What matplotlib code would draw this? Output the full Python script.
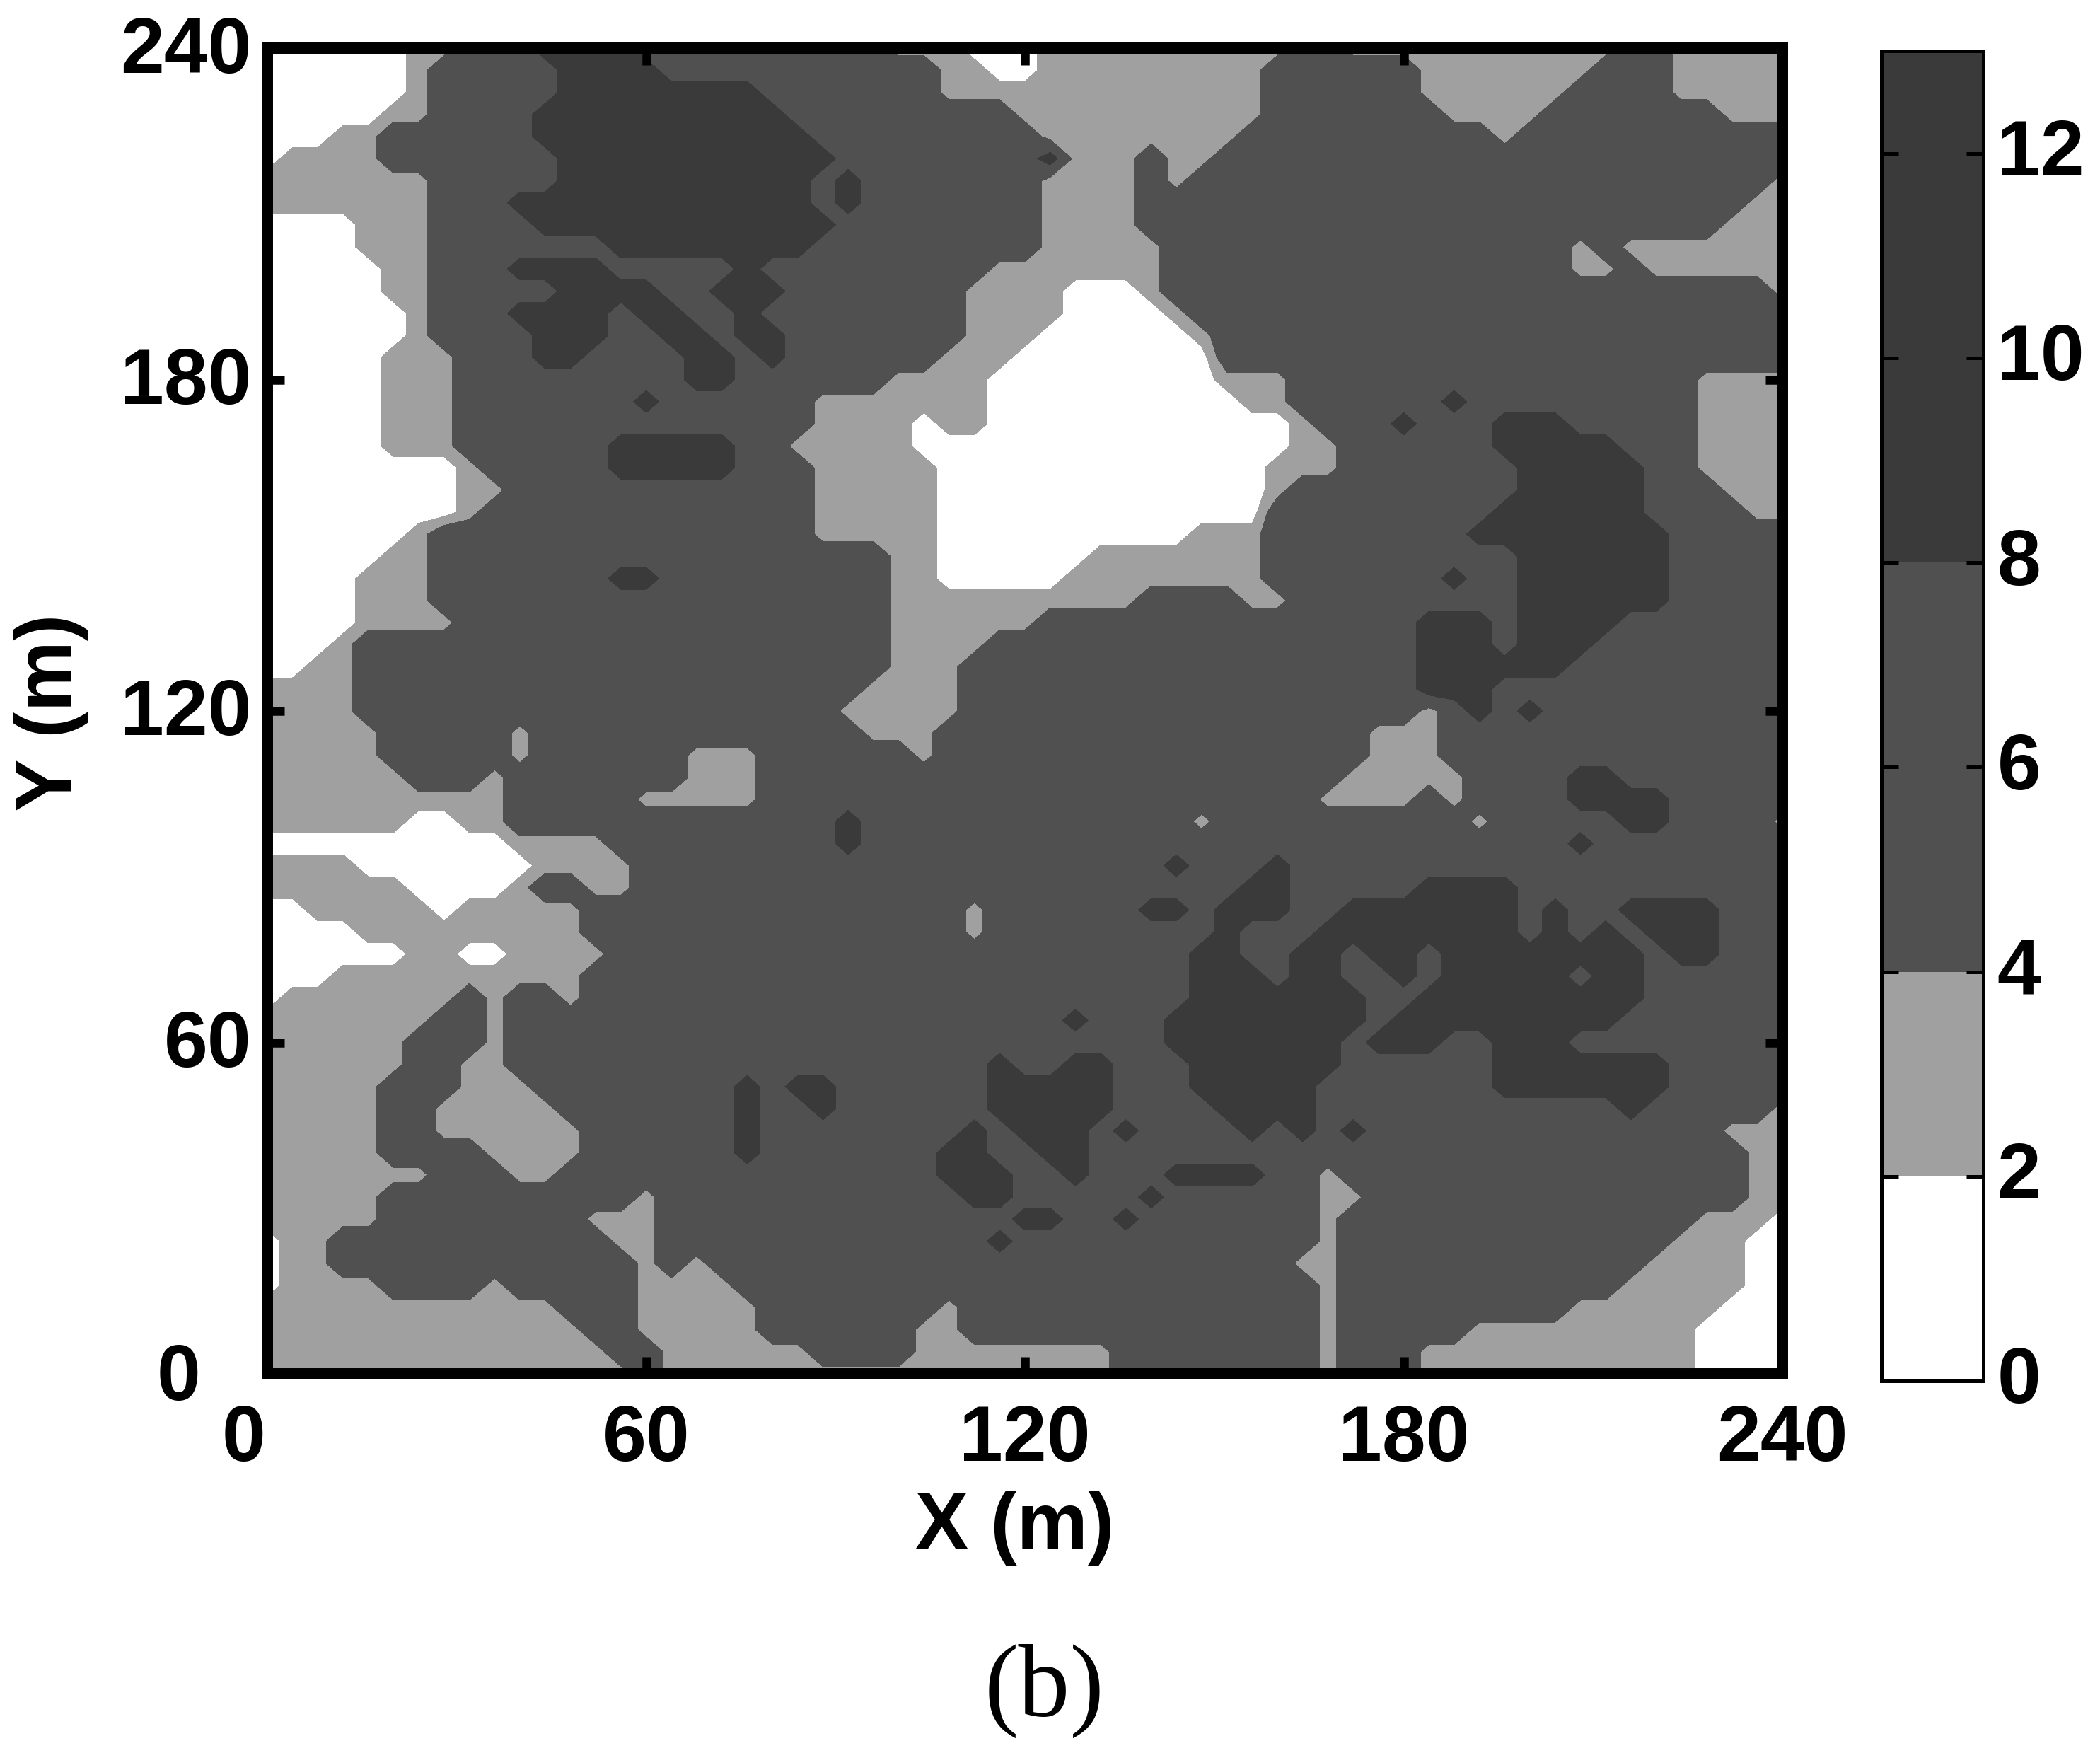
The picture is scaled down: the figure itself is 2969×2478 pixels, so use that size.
import matplotlib
matplotlib.use('Agg')
import matplotlib.pyplot as plt
import matplotlib.transforms as mtrans
from matplotlib.colors import ListedColormap, BoundaryNorm
import numpy as np

# coverage, one row every 4 m from y=240 down to y=0
# run lengths per row, w/l/m/d = white, light, mid, dark band
rows = [
    "6w 2l 3m 4d 10m 3l 3w 10l 2m 11l 2m 5l",
    "6w 1l 5m 4d 11m 2l 2w 9l 6m 7l 3m 5l",
    "6w 1l 5m 8d 7m 4l 9l 6m 6l 4m 5l",
    "5w 2l 4m 10d 9m 1l 9l 7m 4l 7m 3l",
    "3w 2l 6m 11d 9m 8l 10m 1l 11m",
    "1w 4l 7m 11d 8m 1d 3l 1m 2l 23m",
    "7l 5m 10d 1m 1d 7m 4l 1m 1l 23m 1l",
    "7l 3m 12d 1m 1d 7m 4l 24m 2l",
    "4w 3l 4m 12d 8m 4l 23m 3l",
    "4w 3l 7m 8d 9m 5l 16m 1l 1m 7l",
    "5w 2l 3m 4d 5m 1d 9m 2l 5l 16m 2l 1m 6l",
    "5w 2l 5m 4d 2m 3d 7m 3l 1l 3w 1l 24m 1l",
    "6w 1l 3m 4d 1m 2d 2m 1d 8m 3l 1l 4w 1l 24m",
    "6w 1l 4m 3d 2m 2d 1m 2d 7m 3l 6w 1l 23m",
    "5w 3l 3m 2d 4m 2d 1m 1d 6m 3l 1w 7w 23m",
    "5w 3l 9m 2d 6m 4l 2w 7w 3l 16m 4l",
    "5w 3l 7m 1d 6m 7l 2w 8w 2l 6m 1d 9m 4l",
    "5w 3l 14m 4l 1w 2l 2w 10w 1l 3m 1d 3m 3d 5m 4l",
    "5w 3l 6m 5d 2m 5l 5w 10w 2l 6m 5d 3m 4l",
    "8w 1l 5m 5d 3m 5l 4w 9w 3l 7m 5d 2m 4l",
    "8w 2l 12m 5l 4w 9w 1l 9m 5d 3m 3l",
    "8w 1l 13m 5l 4w 9w 9m 6d 4m 2l",
    "6w 1l 15m 5l 4w 6w 3l 8m 8d 5m",
    "5w 2l 18m 2l 4w 2w 7l 10m 6d 5m",
    "4w 3l 7m 2d 9m 2l 4w 1w 8l 7m 1d 2m 6d 5m",
    "4w 3l 18m 6l 4l 4m 2l 9m 6d 5m",
    "4w 4l 17m 6l 15m 3d 1m 4d 7m",
    "3w 1l 21m 4l 2m 15m 3d 1m 3d 8m",
    "2w 2l 21m 3l 3m 15m 6d 9m",
    "4l 20m 4l 3m 15m 3d 12m",
    "4l 19m 5l 3m 15m 1l 1m 1d 1m 1d 10m",
    "5l 5m 1l 13m 3l 4m 13m 3l 14m",
    "5l 5m 1l 6m 3l 6m 1l 4m 13m 3l 14m",
    "6l 3m 1l 7m 3l 11m 12m 5l 4m 2d 7m",
    "10l 5m 5l 11m 11m 4l 1m 1l 4m 4d 5m",
    "6l 2w 2l 13m 1d 7m 6m 1l 10m 1l 5m 2d 4m 1l",
    "10w 4l 9m 1d 7m 21m 1d 8m",
    "4l 7w 4l 16m 5m 1d 3m 1d 20m",
    "6l 4w 1l 2m 2l 16m 8m 2d 5m 4d 11m",
    "2w 5l 1w 5l 15m 1l 2m 4m 2d 1m 3d 2m 7d 1m 1d 2m 4d 3m",
    "4w 9l 15m 1l 2m 7m 1d 3m 8d 1m 1d 1m 1d 1m 3d 3m",
    "6w 2l 2w 4l 17m 6m 2d 2m 2d 1m 2d 1m 8d 1m 2d 3m",
    "3w 10l 18m 6m 3d 1m 2d 2m 1d 1m 5d 1m 2d 6m",
    "1w 7l 1m 1l 2m 1l 18m 6m 7d 2m 9d 6m",
    "7l 2m 1l 21m 1m 1d 3m 8d 1m 9d 7m",
    "6l 3m 1l 21m 5m 7d 1m 3d 2m 3d 9m",
    "6l 2m 2l 19m 1d 1m 1m 2d 3m 6d 6m 7d 5m",
    "5l 3m 3l 8m 1d 1m 2d 6m 2d 3d 3m 5d 7m 7d 5m",
    "5l 2m 5l 7m 1d 2m 1d 6m 2d 3d 4m 4d 12m 1d 5m 1l",
    "5l 2m 6l 6m 1d 8m 1d 1m 1d 2d 1m 1d 4m 1d 1m 1d 1m 1d 14m 3l",
    "5l 4m 4l 6m 1d 7m 2d 2m 2d 26m 2l",
    "7l 3m 2l 15m 3d 1m 1m 1d 3m 4d 2m 1l 16m 2l",
    "5l 10m 1l 12m 2d 1m 4m 1d 6m 2l 15m 2l",
    "5l 8m 3l 14m 1d 1d 2m 1d 7m 1l 14m 3l 1w",
    "1w 2l 11m 2l 13m 1d 1m 11m 1l 13m 3l 2w",
    "1w 2l 12m 1l 1m 1l 13m 10m 2l 12m 4l 2w",
    "1w 4l 4m 1l 5m 4l 12m 11m 1l 11m 5l 2w",
    "12l 3m 5l 7m 1l 3m 11m 1l 9m 6l 3w",
    "13l 2m 5l 6m 2l 3m 11m 1l 5m 9l 4w",
    "14l 2m 6l 4m 5l 3l 8m 1l 3m 11l 4w",
    "15l 1m 15l 3l 8m 1l 3m 11l 4w",
]
band_value = {'w': 1, 'l': 3, 'm': 6, 'd': 10}
levels = [0, 2, 4, 8, 13]
band_colors = ['#ffffff', '#a0a0a0', '#505050', '#3a3a3a']
ticks_xy = [0, 60, 120, 180, 240]
ticks_bar = [0, 2, 4, 6, 8, 10, 12]

grid = []
for row in rows:
    vals = []
    for run in row.split():
        vals += [band_value[run[-1]]] * int(run[:-1])
    assert len(vals) == 61, row
    grid.append(vals)
grid = np.array(grid[::-1], dtype=float)
x = np.linspace(0, 240, 61)
y = np.linspace(0, 240, 61)

plt.rcParams['font.family'] = ['Liberation Sans']
plt.rcParams['font.weight'] = 'bold'
W, H = 2969, 2478
fig = plt.figure(figsize=(W / 100, H / 100), dpi=100)


def box(left, top, right, bottom):
    return [left / W, 1 - bottom / H, (right - left) / W, (bottom - top) / H]


def shift(label, dx, dy):
    label.set_transform(label.get_transform()
                        + mtrans.ScaledTranslation(dx, dy, fig.dpi_scale_trans))


ax = fig.add_axes(box(378, 68, 2520, 1942))
cmap = ListedColormap(band_colors)
norm = BoundaryNorm(levels, cmap.N)
cf = ax.contourf(x, y, grid, levels=levels, cmap=cmap, norm=norm)
ax.set_xlim(0, 240)
ax.set_ylim(0, 240)
ax.set_xticks(ticks_xy)
ax.set_yticks(ticks_xy)
ax.tick_params(direction='in', top=True, right=True, length=17, width=9, labelsize=80)
ax.tick_params(axis='x', pad=30)
ax.tick_params(axis='y', pad=16)
for s in ax.spines.values():
    s.set_linewidth(11.5)

# the two zeros sit further out than the other labels
shift(ax.get_xticklabels()[0], -0.33, 0)
shift(ax.get_yticklabels()[0], -0.72, 0.04)
for lab in ax.get_yticklabels()[1:]:
    shift(lab, 0, 0.06)

cax = fig.add_axes(box(2660, 72, 2804, 1952))
cb = fig.colorbar(cf, cax=cax, spacing='proportional', ticks=ticks_bar)
cax.tick_params(direction='in', left=True, right=True, length=17, width=3.6, labelsize=80, pad=14)
cb.outline.set_linewidth(3.6)
cb.minorticks_off()
for lab in cax.get_yticklabels():
    shift(lab, 0, 0.09)

fig.text(1435 / W, 1 - 2160 / H, 'X (m)', ha='center', va='center', fontsize=81)
fig.text(72 / W, 1 - 1007 / H, 'Y (m)', ha='center', va='center', rotation=90, fontsize=81)
fig.text(1477 / W, 1 - 2390 / H, '(b)', ha='center', va='center', fontsize=105,
         family='Liberation Serif', weight='normal')

fig.savefig('out.png', dpi=100)
